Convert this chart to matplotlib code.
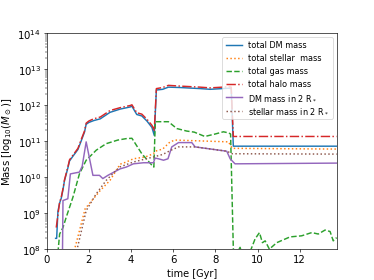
import numpy as np
import matplotlib
matplotlib.use('Agg')
import matplotlib.pyplot as plt

# values, masses as log10(M / Msun)
t_dm = [0.42, 0.47, 0.53, 0.61, 0.69, 0.77, 0.84, 1.0, 1.08, 1.24, 1.48, 1.63, 1.79, 1.87,
        2.0, 2.22, 2.54, 3.0, 3.48, 3.96, 4.04, 4.27, 4.51, 4.75, 4.99, 5.1,
        5.2, 5.5, 5.77, 6.3, 7.27, 7.75, 8.62, 8.75, 8.85, 13.75]
m_dm = [8.3, 8.3, 9.05, 9.28, 9.42, 9.65, 9.9, 10.25, 10.45, 10.58, 10.77, 11.0, 11.25, 11.47,
        11.52, 11.57, 11.62, 11.8, 11.89, 11.95, 11.97, 11.74, 11.70, 11.56, 11.38, 11.16,
        12.42, 12.44, 12.5, 12.49, 12.46, 12.44, 12.47, 12.46, 10.86, 10.86]

t_halo = [0.45, 0.53, 0.61, 0.69, 0.77, 0.84, 1.0, 1.08, 1.24, 1.48, 1.63, 1.79, 1.87,
          2.0, 2.22, 2.54, 3.0, 3.48, 3.96, 4.04, 4.27, 4.51, 4.75, 4.99, 5.1,
          5.2, 5.5, 5.77, 6.3, 7.27, 7.75, 8.62, 8.75, 8.85, 13.75]
m_halo = [8.6, 8.95, 9.3, 9.45, 9.68, 9.92, 10.28, 10.48, 10.61, 10.8, 11.04, 11.28, 11.5,
          11.56, 11.62, 11.67, 11.85, 11.93, 11.99, 12.01, 11.79, 11.75, 11.61, 11.44, 11.3,
          12.46, 12.49, 12.55, 12.53, 12.5, 12.48, 12.51, 12.5, 11.13, 11.13]

t_gas = [0.53, 0.61, 0.77, 0.92, 1.24, 1.55, 1.87, 2.35, 2.82, 3.37, 3.77, 4.04, 4.51, 4.99,
         5.08, 5.15, 5.77, 6.17, 6.64, 7.0, 7.5, 8.0, 8.38, 8.62, 8.72, 8.85, 8.95, 9.17,
         9.3, 9.56, 9.88, 10.09, 10.23, 10.36, 10.56, 10.91, 11.54, 12.09, 12.57, 12.88,
         13.2, 13.44, 13.59, 13.75]
m_gas = [7.9, 8.42, 8.6, 8.88, 9.44, 10.09, 10.47, 10.75, 10.93, 11.03, 11.07, 11.08, 10.65, 10.33,
         10.28, 11.54, 11.54, 11.35, 11.28, 11.25, 11.13, 11.2, 11.26, 11.23, 11.2, 8.02, 7.8, 8.05,
         7.8, 7.8, 8.28, 8.46, 8.18, 8.23, 8.0, 8.18, 8.34, 8.37, 8.46, 8.42,
         8.53, 8.49, 8.23, 8.32]

t_star = [1.3, 1.59, 1.82, 2.14, 2.54, 3.0, 3.48, 3.77, 4.11, 4.67, 5.06, 5.14, 5.5, 5.85,
          6.09, 8.62, 8.8, 13.75]
m_star = [7.95, 8.6, 9.12, 9.35, 9.63, 9.91, 10.36, 10.42, 10.51, 10.56, 10.65, 10.72, 10.78, 10.98,
          11.03, 10.98, 10.8, 10.78]

t_dm2 = [0.74, 0.77, 1.0, 1.12, 1.55, 1.68, 1.87, 2.19, 2.5, 2.66, 2.9, 3.48, 3.77, 4.11,
         4.59, 5.06, 5.14, 5.3, 5.54, 5.75, 5.93, 6.25, 6.88, 7.04, 8.54, 8.7, 8.93, 13.75]
m_dm2 = [7.5, 9.35, 9.4, 10.09, 10.14, 10.3, 10.98, 10.05, 10.05, 9.96, 10.05, 10.23, 10.28, 10.37,
         10.4, 10.4, 10.53, 10.51, 10.47, 10.51, 10.84, 10.96, 10.96, 10.84, 10.72, 10.51, 10.37, 10.39]

t_star2 = [1.42, 1.87, 2.35, 2.82, 3.45, 4.11, 5.06, 5.5, 5.9, 6.25, 7.04, 8.54, 8.8, 13.75]
m_star2 = [7.95, 9.07, 9.54, 9.91, 10.28, 10.42, 10.56, 10.63, 10.75, 10.84, 10.84, 10.72, 10.65, 10.64]

lw = 1.8

fig = plt.figure(figsize=(6.4, 4.8), dpi=58.44)
ax = fig.add_subplot(111)

ax.plot(t_dm, 10 ** np.array(m_dm), c='C0', lw=lw, label='total DM mass')
ax.plot(t_star, 10 ** np.array(m_star), c='C1', ls=':', lw=lw, label='total stellar  mass')
ax.plot(t_gas, 10 ** np.array(m_gas), c='C2', ls='--', lw=lw, label='total gas mass')
ax.plot(t_halo, 10 ** np.array(m_halo), c='C3', ls='-.', lw=lw, label='total halo mass')
ax.plot(t_dm2, 10 ** np.array(m_dm2), c='C4', lw=lw, label=r'DM mass in 2 R$_*$')
ax.plot(t_star2, 10 ** np.array(m_star2), c='C5', ls=':', lw=lw, label=r'stellar mass in 2 R$_*$')

ax.set_yscale('log')
ax.set_ylim(1e8, 1e14)
ax.set_xlim(0, 13.75)
ax.tick_params(labelsize=12.5)
ax.set_xlabel('time [Gyr]', fontsize=12)
ax.set_ylabel(r'Mass [log$_{10}(M_\odot)$]', fontsize=12.5)
ax.legend(loc='upper right', fontsize=10)

fig.savefig('out.png', dpi=58.44)
